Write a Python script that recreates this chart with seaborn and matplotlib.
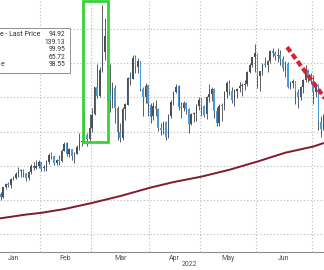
import numpy as np
import pandas as pd
import matplotlib
matplotlib.use("Agg")
import matplotlib.pyplot as plt
import seaborn as sns
from matplotlib.patches import Rectangle

sns.set_style("white")
plt.rcParams["font.family"] = ["Roboto", "DejaVu Sans"]

# ---------------- data (Brent front-month, daily OHLC 2022) ----------------
start_date = "2022-01-03"
end_date = "2022-07-07"
holidays = ["2022-04-15"]

opens = [
    # Jan
    77.9, 78.9, 80.0, 80.5, 82.0, 81.8, 80.9, 83.7, 84.6, 84.4, 86.1, 86.5, 87.5, 88.3, 88.4,
    87.8, 86.3, 88.2, 89.9, 89.3, 90.0,
    # Feb
    91.1, 89.2, 89.5, 91.1, 93.3, 92.7, 90.8, 91.5, 91.4, 94.4, 96.5, 93.3, 94.8, 93.0, 93.5,
    95.4, 96.8, 96.9, 99.1, 97.9,
    # Mar
    101.0, 105.0, 112.9, 110.5, 118.1, 123.2, 128.0, 111.1, 109.3, 112.7, 106.9, 99.9, 98.0,
    106.6, 107.9, 115.6, 115.5, 121.6, 119.0, 120.7, 112.5, 110.2, 113.5,
    # Apr
    107.9, 104.4, 107.5, 106.6, 101.1, 100.6, 102.8, 98.5, 104.6, 108.8, 111.7, 113.2, 107.3,
    106.8, 108.3, 106.7, 102.3, 105.0, 105.3, 107.6,
    # May
    109.3, 107.6, 105.0, 110.1, 110.9, 112.4, 105.9, 102.5, 107.5, 107.5, 111.6, 114.2, 111.9,
    109.1, 112.0, 112.6, 113.4, 113.6, 114.0, 117.4, 119.4, 121.7,
    # Jun
    122.8, 116.3, 117.6, 119.7, 119.5, 120.6, 123.6, 123.1, 122.0, 122.3, 121.2, 118.5, 119.8,
    113.1, 114.1, 114.7, 111.7, 110.1, 113.1, 115.1, 118.0, 116.3,
    # Jul
    114.8, 111.6, 113.5, 102.8, 100.7,
]
highs = [
    79.4, 80.2, 81.2, 82.4, 83.0, 82.2, 83.8, 85.0, 85.3, 86.4, 87.0, 88.1, 89.5, 89.1, 88.9,
    88.0, 88.4, 90.4, 91.0, 91.7, 91.7,
    91.2, 90.1, 91.7, 93.7, 94.0, 92.9, 92.0, 93.0, 95.0, 96.8, 96.8, 95.1, 95.0, 94.0, 96.0,
    99.5, 97.6, 105.8, 99.5, 105.0,
    107.0, 113.0, 119.8, 118.8, 137.0, 133.2, 128.9, 119.8, 114.6, 113.6, 107.5, 102.5, 107.3,
    108.2, 116.0, 117.5, 122.5, 122.3, 121.6, 120.7, 112.9, 114.3, 113.7,
    108.2, 108.7, 109.2, 107.0, 102.5, 103.2, 103.0, 105.0, 109.2, 111.9, 114.0, 113.5, 108.6,
    108.8, 108.5, 107.0, 105.5, 105.6, 108.0, 110.0,
    109.9, 107.9, 110.5, 114.0, 113.0, 112.8, 107.2, 108.0, 108.3, 112.0, 114.8, 115.0, 113.0,
    112.4, 112.8, 114.5, 114.1, 115.0, 117.6, 120.0, 121.9, 125.5,
    123.0, 117.8, 120.0, 121.9, 121.0, 124.0, 124.4, 123.5, 124.3, 123.8, 122.0, 120.5, 120.2,
    114.8, 115.5, 114.9, 112.5, 113.3, 115.5, 119.5, 118.4, 117.0,
    116.5, 114.0, 114.0, 104.6, 105.0,
]
lows = [
    77.7, 78.1, 79.4, 79.8, 81.4, 80.1, 80.5, 83.1, 83.8, 83.6, 85.8, 86.0, 86.8, 86.8, 86.7,
    85.5, 85.7, 87.6, 88.6, 88.9, 89.4,
    88.4, 88.5, 88.4, 90.4, 91.9, 90.1, 90.3, 90.2, 91.1, 94.2, 92.7, 92.4, 91.6, 90.7, 93.3,
    94.7, 95.7, 96.7, 95.7, 97.0,
    100.0, 104.8, 109.9, 110.2, 117.5, 121.0, 108.7, 105.6, 107.0, 102.4, 97.4, 97.0, 97.6,
    103.4, 107.7, 113.6, 115.3, 117.0, 117.0, 111.8, 104.6, 108.3, 104.5,
    102.6, 103.4, 104.5, 100.2, 98.9, 99.2, 97.6, 98.2, 104.0, 107.7, 111.3, 106.3, 104.0,
    106.0, 105.0, 99.5, 101.8, 102.8, 103.0, 106.3,
    104.5, 104.2, 103.7, 108.6, 109.0, 104.0, 101.7, 101.6, 103.1, 106.4, 109.7, 110.7, 108.3,
    107.4, 109.9, 111.6, 110.5, 112.2, 113.4, 117.0, 118.9, 117.5,
    112.7, 111.9, 116.5, 118.8, 117.3, 120.0, 121.8, 120.8, 120.4, 119.5, 117.7, 116.0, 112.7,
    112.3, 112.7, 108.1, 107.0, 109.3, 111.4, 114.6, 114.4, 113.8,
    108.0, 110.2, 100.3, 98.5, 100.3,
]
closes = [
    78.98, 80.00, 80.80, 81.99, 81.75, 80.87, 83.72, 84.67, 84.47, 86.06, 86.48, 87.51, 88.44,
    88.38, 87.89, 86.27, 88.20, 89.96, 89.34, 90.03, 91.21,
    89.16, 89.47, 91.11, 93.27, 92.69, 90.78, 91.55, 91.41, 94.44, 96.48, 93.28, 94.81, 92.97,
    93.54, 95.39, 96.84, 96.84, 99.08, 97.93, 100.99,
    104.97, 112.93, 110.46, 118.11, 123.21, 127.98, 111.14, 109.33, 112.67, 106.90, 99.91,
    98.02, 106.64, 107.93, 115.62, 115.48, 121.60, 119.03, 120.65, 112.48, 110.23, 113.45, 107.91,
    104.39, 107.53, 106.64, 101.07, 100.58, 102.78, 98.48, 104.64, 108.78, 111.70, 113.16,
    107.25, 106.80, 108.33, 106.65, 102.32, 104.99, 105.32, 107.59, 109.34,
    107.58, 104.97, 110.14, 110.90, 112.39, 105.94, 102.46, 107.51, 107.45, 111.55, 114.24,
    111.93, 109.11, 112.04, 112.55, 113.42, 113.56, 114.03, 117.40, 119.43, 121.67, 122.84,
    116.29, 117.61, 119.72, 119.51, 120.57, 123.58, 123.07, 122.01, 122.27, 121.17, 118.51,
    119.81, 113.12, 114.13, 114.65, 111.74, 110.05, 113.12, 115.09, 117.98, 116.26, 114.81,
    111.63, 113.50, 102.77, 100.69, 104.65,
]

# 200-day simple moving average, read at selected dates
ma_dates = ["2022-01-07", "2022-01-24", "2022-02-01", "2022-02-14", "2022-03-01",
            "2022-03-16", "2022-04-01", "2022-04-14", "2022-05-02", "2022-05-17",
            "2022-06-01", "2022-06-16", "2022-07-01", "2022-07-07"]
ma_values = [74.5, 75.7, 76.2, 77.3, 79.1, 81.1, 83.6, 85.2, 86.8, 88.8, 91.2, 93.8, 95.6, 96.6]

month_labels = ["Jan", "Feb", "Mar", "Apr", "May", "Jun", "Jul"]
year_label = "2022"
y_grid = [70, 80, 90, 100, 110, 120, 130]

# legend as visible in the (cropped) reference
legend_labels = ["e - Last Price", "", "", "", "e"]
legend_values = ["94.92", "139.13", "99.95", "65.72", "98.55"]

# annotations
box_x = [37.4, 47.25]
box_y = [96.9, 138.2]
trend_x = [117.7, 133.0]
trend_y = [124.7, 109.3]

# ---------------- build ----------------
dates = pd.bdate_range(start_date, end_date)
dates = dates[~dates.isin(pd.to_datetime(holidays))]
df = pd.DataFrame({"date": dates, "open": opens, "high": highs, "low": lows, "close": closes})
df["pos"] = np.arange(len(df))
df["up"] = df["close"] >= df["open"]

fig = plt.figure(figsize=(3.24, 2.70), dpi=100)
ax = fig.add_axes([0, 18 / 270, 1, 252 / 270])
ax.set_xlim(4.76, 132.22)
ax.set_ylim(64.74, 138.49)

# month boundaries
first_idx = df.groupby(df["date"].dt.month)["pos"].min().values
bounds = np.concatenate([[-0.5], first_idx[1:] - 0.5])
centers = [(bounds[i] + bounds[i + 1]) / 2 for i in range(len(bounds) - 1)]

grid_kw = dict(color="#b8b8b8", lw=0.8, ls=(0, (1, 2)), zorder=0)
for b in bounds[1:]:
    ax.axvline(b, **grid_kw)
for g in y_grid:
    ax.axhline(g, **grid_kw)

# moving average
ma_pos = dates.get_indexer(pd.to_datetime(ma_dates))
ma_df = pd.DataFrame({"pos": ma_pos, "ma": ma_values})
sns.lineplot(data=ma_df, x="pos", y="ma", ax=ax, color="#7e1c2c", lw=1.4, zorder=2)

# candles
up_col, dn_col = "#4a5058", "#4a9ae0"
cols = np.where(df["up"], up_col, dn_col)
ax.vlines(df["pos"], df["low"], df["high"], colors="#3e444c", lw=0.6, zorder=3)
body_bot = np.minimum(df["open"], df["close"])
body_h = np.maximum(np.abs(df["close"] - df["open"]), 0.3)
ax.bar(df["pos"], body_h, bottom=body_bot, width=0.62, color=cols, lw=0, zorder=4)

# overlays
ax.add_patch(Rectangle((box_x[0], box_y[0]), box_x[1] - box_x[0], box_y[1] - box_y[0],
                       fill=False, edgecolor="#3ad23a", lw=2.0, zorder=6))
ax.plot(trend_x, trend_y, color="#d8232f", lw=3.0, ls=(0, (1.4, 0.7)),
        solid_capstyle="butt", zorder=6)

# axes styling
for s in ["left", "right", "top"]:
    ax.spines[s].set_visible(False)
ax.spines["bottom"].set_color("#8c8c8c")
ax.spines["bottom"].set_linewidth(0.8)
ax.set_xticks(bounds[1:], minor=False)
ax.set_xticklabels([])
ax.tick_params(axis="x", which="major", length=2.5, width=0.7, color="#999999")
ax.set_xticks(centers, minor=True)
ax.set_xticklabels(month_labels[:len(centers)], minor=True)
ax.tick_params(axis="x", which="minor", length=0, pad=2.5, labelsize=5, labelcolor="#505050")
ax.set_yticks([])
ax.set_xlabel("")
ax.set_ylabel("")

fig.text(189 / 324, 1 - 265 / 270, year_label, ha="center", va="center",
         fontsize=5, color="#505050")

# legend box (cropped on the left like the reference)
fig.add_artist(Rectangle((-5 / 324, 1 - 73 / 270), 75 / 324, 45 / 270,
                         transform=fig.transFigure, facecolor="white",
                         edgecolor="#909090", lw=0.7, zorder=10))
line_y = [35, 42.5, 50, 57.5, 65]
for yy, lab in zip(line_y, legend_labels):
    if lab:
        fig.text(0.5 / 324, 1 - yy / 270, lab, ha="left", va="center",
                 fontsize=5, color="#303030", zorder=11)
for yy, v in zip(line_y, legend_values):
    fig.text(65 / 324, 1 - yy / 270, v, ha="right", va="center",
             fontsize=4.8, color="#303030", zorder=11)

fig.savefig("out.png", dpi=100)
